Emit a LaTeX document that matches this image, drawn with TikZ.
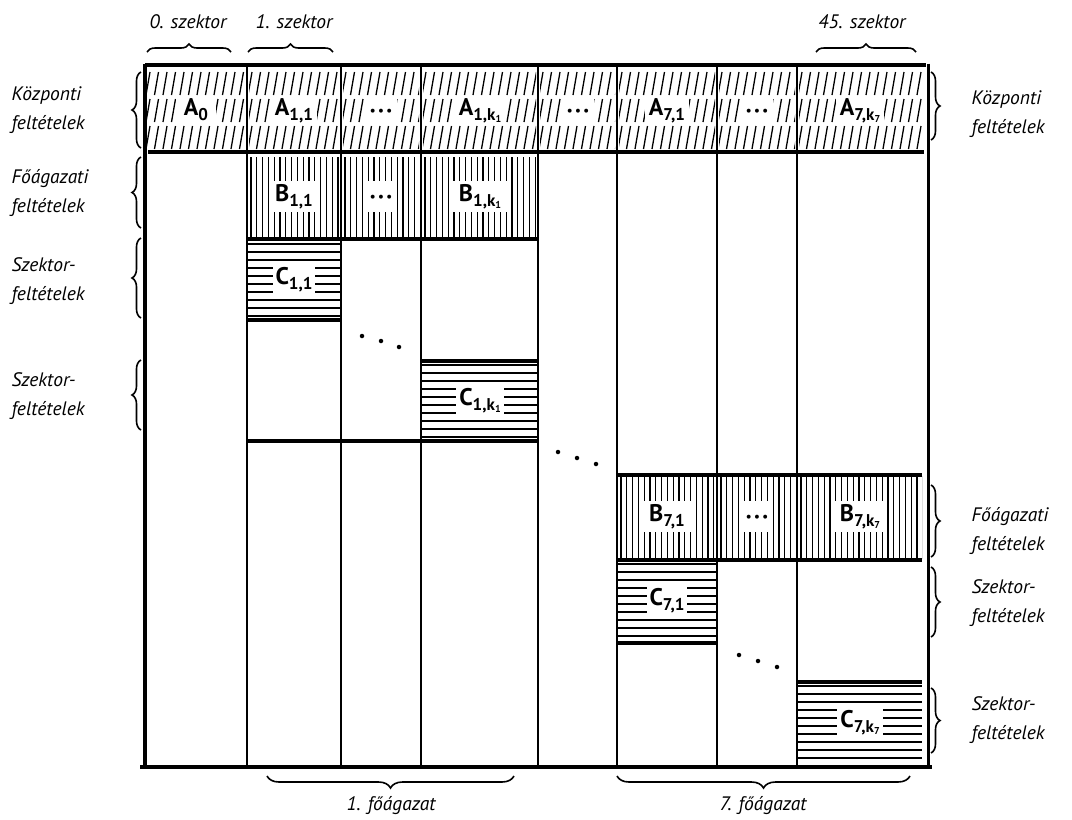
\documentclass[tikz,border=0pt]{standalone}
\usepackage{fontspec}
\setmainfont{PT Sans}
\usetikzlibrary{decorations.pathreplacing}
\newcommand\celllab[2]{{\fontsize{24}{24}\selectfont\bfseries #1\raisebox{-4.5pt}{\fontsize{17}{17}\selectfont #2}}}
\newcommand\ksub[1]{k\raisebox{-2.5pt}{\fontsize{10}{10}\selectfont #1}}
\newcommand\celldots{{\fontsize{14}{14}\selectfont •\kern2pt•\kern2pt•}}
\newcommand\slashcell[2]{%
  \begin{scope}
  \clip (#1+2,67) rectangle (#2-2,150);
  \foreach \i in {0,...,16}{%
    \foreach \ya/\yb in {72/95,99/122,126/149}{%
      \draw[hatch, line width=1.3pt] ({#1+1+\i*8.5},\yb) -- ({#1+5+\i*8.5},\ya);}}
  \end{scope}}
\newcommand\vertcell[4]{%
  \begin{scope}
  \clip (#1,#3) rectangle (#2,#4);
  \foreach \i in {0,...,25}{\draw[hatch] ({#1+4+\i*5.8},#3) -- ({#1+4+\i*5.8},#4);}
  \end{scope}}
\newcommand\horcell[4]{%
  \begin{scope}
  \clip (#1,#3) rectangle (#2,#4);
  \foreach \i in {0,...,12}{\draw[hatch] (#1,{#3+3+\i*8}) -- (#2,{#3+3+\i*8});}
  \end{scope}}
\tikzset{
  frame/.style={line width=3.4pt},
  divider/.style={line width=2.8pt},
  hatch/.style={line width=1.1pt},
  lab/.style={fill=white, inner xsep=6pt, inner ysep=1pt, text height=18pt, text depth=7pt},
  side/.style={align=left, anchor=west, font=\fontsize{19.5}{29}\selectfont\itshape},
  toplab/.style={font=\fontsize{19.5}{22}\selectfont\itshape},
  brc/.style={decorate, decoration={brace, amplitude=9pt}, line width=1.6pt},
  dotmark/.style={circle, fill=black, inner sep=0pt, minimum size=4.5pt}
}
\begin{document}
\begin{tikzpicture}[x=1pt,y=-1pt]
\useasboundingbox (0,0) rectangle (1072,820);

% ---------- hatching ----------
\slashcell{145}{247}\slashcell{247}{341}\slashcell{341}{421}\slashcell{421}{538}
\slashcell{538}{617}\slashcell{617}{717}\slashcell{717}{797}\slashcell{797}{924}
\vertcell{247}{341}{157}{238}\vertcell{341}{421}{157}{238}\vertcell{421}{538}{157}{238}
\vertcell{617}{717}{476}{559}\vertcell{717}{797}{476}{559}\vertcell{797}{922}{476}{559}
\horcell{247}{341}{241}{319}
\horcell{421}{538}{362}{440}
\horcell{617}{717}{561}{642}
\horcell{797}{922}{683}{766}

% ---------- cell labels ----------
\node[lab, inner xsep=8pt] (a0) at (196,110) {\celllab{A}{0}};
\node[lab, inner xsep=4pt] (a11) at (294,110) {\celllab{A}{1,1}};
\node[lab, inner xsep=5pt] (ad1) at (381,110) {\celldots};
\node[lab, inner xsep=5pt] (a1k) at (480,110) {\celllab{A}{1,\ksub{1}}};
\node[lab, inner xsep=5pt] (ad2) at (578,110) {\celldots};
\node[lab, inner xsep=4pt] (a71) at (667,110) {\celllab{A}{7,1}};
\node[lab, inner xsep=5pt] (ad3) at (757,110) {\celldots};
\node[lab, inner xsep=4pt] (a7k) at (860,110) {\celllab{A}{7,\ksub{7}}};

\node[lab, inner ysep=3pt] (b11) at (294,196) {\celllab{B}{1,1}};
\node[lab, inner ysep=3pt, inner xsep=5pt] (bd1) at (381,196) {\celldots};
\node[lab, inner ysep=3pt] (b1k) at (480,196) {\celllab{B}{1,\ksub{1}}};
\node[lab, inner ysep=3pt] (b71) at (667,516) {\celllab{B}{7,1}};
\node[lab, inner ysep=3pt, inner xsep=5pt] (bd7) at (757,516) {\celldots};
\node[lab, inner ysep=3pt] (b7k) at (860,516) {\celllab{B}{7,\ksub{7}}};

\node[lab, inner xsep=3pt] (c11) at (294,279) {\celllab{C}{1,1}};
\node[lab, inner xsep=3pt] (c1k) at (480,400) {\celllab{C}{1,\ksub{1}}};
\node[lab, inner xsep=3pt] (c71) at (667,600) {\celllab{C}{7,1}};
\node[lab, inner xsep=3pt] (c7k) at (860,722) {\celllab{C}{7,\ksub{7}}};

% ---------- frame lines ----------
\draw[frame] (145,65) -- (926,65);
\draw[frame, line width=3.8pt] (148,152) -- (924,152);
\draw[frame] (145,63.5) -- (145,768);
\draw[frame, line width=3pt] (928,63.5) -- (928,768);
\foreach \x in {247,341,421,538,617,717,797}{\draw[divider] (\x,65) -- (\x,767);}
\draw[frame] (247,239) -- (538,239);
\draw[frame] (247,320) -- (341,320);
\draw[frame] (421,361) -- (538,361);
\draw[frame] (247,441) -- (538,441);
\draw[frame] (617,475) -- (922,475);
\draw[frame] (617,560) -- (922,560);
\draw[frame] (617,643) -- (717,643);
\draw[frame] (797,682) -- (922,682);
\draw[frame, line width=3.8pt] (140,767) -- (932,767);

% ---------- diagonal dots ----------
\node[dotmark] (p1) at (362,336) {};
\node[dotmark] (p2) at (381,341) {};
\node[dotmark] (p3) at (399,347) {};
\node[dotmark] (q1) at (558,452) {};
\node[dotmark] (q2) at (577,458) {};
\node[dotmark] (q3) at (596,464) {};
\node[dotmark] (r1) at (739,655) {};
\node[dotmark] (r2) at (758,661) {};
\node[dotmark] (r3) at (777,667) {};

% ---------- top labels ----------
\node[toplab] (s0) at (188,22) {0. szektor};
\node[toplab] (s1) at (294,22) {1. szektor};
\node[toplab] (s45) at (862,22) {45. szektor};
\coordinate (t0a) at (147,52); \coordinate (t0b) at (231,52);
\coordinate (t1a) at (248,52); \coordinate (t1b) at (333,52);
\coordinate (t2a) at (816,52); \coordinate (t2b) at (916,52);
\draw[brc, decoration={amplitude=8pt}] (t0a) -- (t0b);
\draw[brc, decoration={amplitude=8pt}] (t1a) -- (t1b);
\draw[brc, decoration={amplitude=8pt}] (t2a) -- (t2b);

% ---------- left labels ----------
\node[side] (l1) at (8,110) {Központi\\feltételek};
\node[side] (l2) at (8,193) {Főágazati\\feltételek};
\node[side] (l3) at (8,281) {Szektor-\\feltételek};
\node[side] (l4) at (8,396) {Szektor-\\feltételek};
\draw[brc] (141,148) -- (141,72);
\draw[brc] (141,228) -- (141,157);
\draw[brc] (141,318) -- (141,238);
\draw[brc] (141,430) -- (141,360);

% ---------- right labels ----------
\node[side] (r1l) at (968,114) {Központi\\feltételek};
\node[side] (r2l) at (968,531) {Főágazati\\feltételek};
\node[side] (r3l) at (968,603) {Szektor-\\feltételek};
\node[side] (r4l) at (968,720) {Szektor-\\feltételek};
\draw[brc] (931,72) -- (931,140);
\draw[brc] (931,485) -- (931,557);
\draw[brc] (931,567) -- (931,637);
\draw[brc] (931,688) -- (931,753);

% ---------- bottom labels ----------
\draw[brc, decoration={amplitude=12pt}] (514,776) -- (267,776);
\draw[brc, decoration={amplitude=12pt}] (910,776) -- (617,776);
\node[toplab] (f1) at (391,806) {1. főágazat};
\node[toplab] (f7) at (763,806) {7. főágazat};
\end{tikzpicture}
\end{document}
